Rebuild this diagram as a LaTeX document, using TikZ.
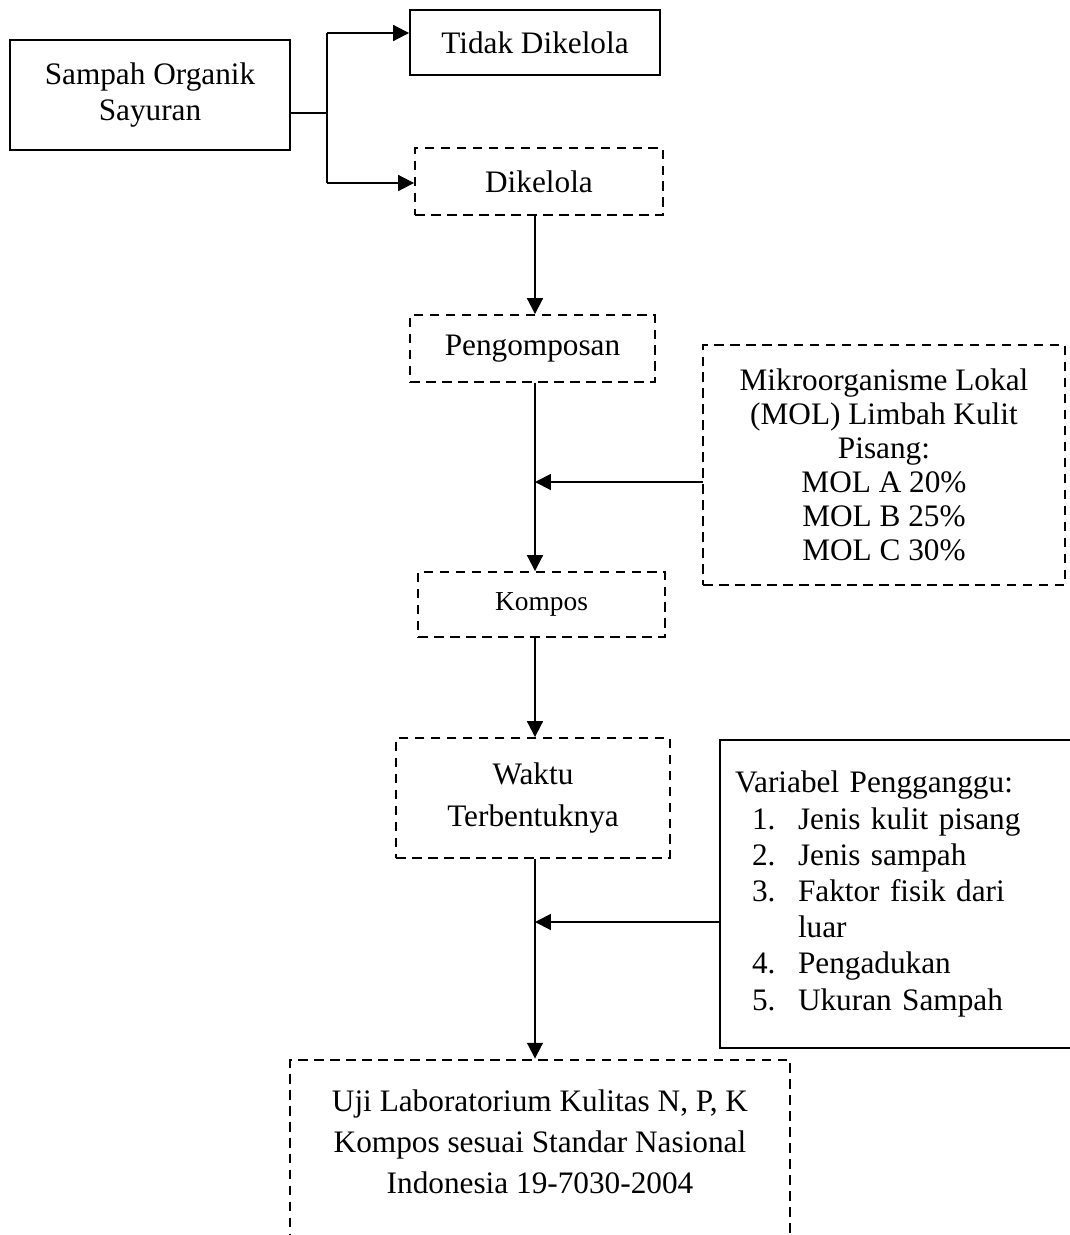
\documentclass[tikz,border=0pt]{standalone}
\usepackage{fontspec}
\setmainfont{Liberation Serif}
\usepackage{tikz}
\usetikzlibrary{positioning,arrows.meta,calc}

\tikzset{
  kotak/.style={draw, line width=1.1pt, align=center, inner sep=0pt,
    font=\fontsize{17.8pt}{20.5pt}\selectfont},
  kotakputus/.style={kotak, dash pattern=on 5.5pt off 3.6pt},
  garis/.style={line width=1.1pt},
  panah/.style={garis, -{Triangle[length=9pt,width=9pt]}}
}

\begin{document}
\begin{tikzpicture}[x=0.02cm, y=-0.02cm]
  \clip (0,0) rectangle (1070,1235);

  % Kotak atas
  \node[kotak, minimum width=5.6cm, minimum height=2.2cm] (sampah) at (150,95)
    {Sampah Organik\\Sayuran};
  \node[kotak, minimum width=5cm, minimum height=1.3cm] (tidak) at (535,42.5)
    {Tidak Dikelola};
  \node[kotakputus, minimum width=4.96cm, minimum height=1.34cm] (dikelola) at (539,181.5)
    {Dikelola};

  % Alur tengah
  \node[kotakputus, minimum width=4.9cm, minimum height=1.34cm] (pengomposan) at (532.5,348.5)
    {Pengomposan};
  \node[kotakputus, minimum width=4.94cm, minimum height=1.3cm,
    font=\fontsize{15.6pt}{18pt}\selectfont] (kompos) at (541.5,604.5)
    {Kompos};
  \node[kotakputus, minimum width=5.48cm, minimum height=2.4cm,
    font=\fontsize{17.8pt}{24pt}\selectfont] (waktu) at (533,798)
    {Waktu\\Terbentuknya};
  \node[kotakputus, minimum width=10cm, minimum height=3.7cm, text depth=0.4cm,
    font=\fontsize{17.8pt}{23.3pt}\selectfont] (uji) at (540,1152)
    {Uji Laboratorium Kulitas N, P, K\\Kompos sesuai Standar Nasional\\Indonesia 19-7030-2004};

  % Kotak samping
  \node[kotakputus, minimum width=7.24cm, minimum height=4.8cm,
    font=\fontsize{17.8pt}{19.3pt}\selectfont] (mol) at (884,465)
    {Mikroorganisme Lokal\\(MOL) Limbah Kulit\\Pisang:\\MOL A 20\%\\MOL B 25\%\\MOL C 30\%};
  \node[kotak, minimum width=7.1cm, minimum height=6.16cm, align=left,
    text width=6.5cm, font=\fontsize{17.8pt}{20.6pt}\selectfont] (variabel) at (897.5,894)
    {Variabel Pengganggu:\\
     \hspace*{0.34cm}\makebox[0.92cm][l]{1.}Jenis kulit pisang\\
     \hspace*{0.34cm}\makebox[0.92cm][l]{2.}Jenis sampah\\
     \hspace*{0.34cm}\makebox[0.92cm][l]{3.}Faktor fisik dari\\
     \hspace*{1.26cm}luar\\
     \hspace*{0.34cm}\makebox[0.92cm][l]{4.}Pengadukan\\
     \hspace*{0.34cm}\makebox[0.92cm][l]{5.}Ukuran Sampah};

  % Percabangan
  \coordinate (cabang) at (327,113);
  \coordinate (atas) at (327,33);
  \coordinate (bawah) at (327,183);
  \coordinate (poros) at (535,0);
  \draw[garis] (sampah.east |- cabang) -- (cabang);
  \draw[garis] (atas) -- (bawah);
  \draw[panah] (atas) -- (atas -| tidak.west);
  \draw[panah] (bawah) -- (bawah -| dikelola.west);

  % Panah vertikal
  \draw[panah] (dikelola.south -| poros) -- (pengomposan.north -| poros);
  \draw[panah] (pengomposan.south -| poros) -- (kompos.north -| poros);
  \draw[panah] (kompos.south -| poros) -- (waktu.north -| poros);
  \draw[panah] (waktu.south -| poros) -- (uji.north -| poros);

  % Panah masukan
  \coordinate (masukmol) at (703,482);
  \coordinate (masukvar) at (720,922);
  \draw[panah] (masukmol) -- (masukmol -| poros);
  \draw[panah] (masukvar) -- (masukvar -| poros);
\end{tikzpicture}
\end{document}
